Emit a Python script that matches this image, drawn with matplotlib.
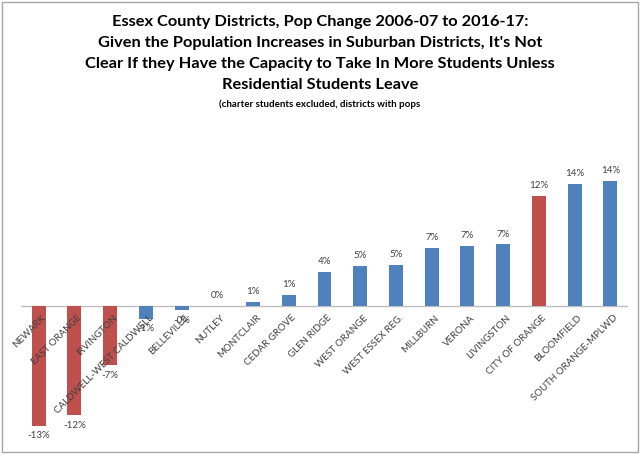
import matplotlib
matplotlib.use("Agg")
import matplotlib.pyplot as plt
from matplotlib.patches import Rectangle

districts = ["NEWARK", "EAST ORANGE", "IRVINGTON", "CALDWELL-WEST CALDWELL",
             "BELLEVILLE", "NUTLEY", "MONTCLAIR", "CEDAR GROVE", "GLEN RIDGE",
             "WEST ORANGE", "WEST ESSEX REG.", "MILLBURN", "VERONA",
             "LIVINGSTON", "CITY OF ORANGE", "BLOOMFIELD", "SOUTH ORANGE-MPLWD"]
pct_change = [-13.4, -12.2, -6.6, -1.4, -0.4, 0.1, 0.55, 1.3, 3.9,
              4.55, 4.65, 6.6, 6.8, 7.0, 12.4, 13.8, 14.1]
highlight = [True, True, True, False, False, False, False, False, False,
             False, False, False, False, False, True, False, False]

BLUE = "#4F81BD"
RED = "#C0504D"
TXT = "#404040"

plt.rcParams['font.family'] = ['Lato', 'DejaVu Sans']

fig = plt.figure(figsize=(6.4, 4.54), dpi=100)
ax = fig.add_axes([0.0325, 0.0308, 0.949, 0.661])

x = list(range(len(districts)))
colors = [RED if h else BLUE for h in highlight]
ax.bar(x, pct_change, width=0.39, color=colors, zorder=2)
ax.axhline(0, color="#BFBFBF", linewidth=1.0, zorder=1)

ax.set_xlim(-0.5, len(districts) - 0.5)
ax.set_ylim(-15.0, 18.7)

for xi, v in zip(x, pct_change):
    lab = f"{v:.0f}%"
    if v >= 0:
        ax.annotate(lab, (xi, v), xytext=(0, 4), textcoords="offset points",
                    ha="center", va="bottom", fontsize=7, color=TXT, zorder=3)
    else:
        ax.annotate(lab, (xi, v), xytext=(0, -4), textcoords="offset points",
                    ha="center", va="top", fontsize=7, color=TXT, zorder=3)

for xi, name in zip(x, districts):
    ax.annotate(name, (xi, 0), xytext=(2, -5), textcoords="offset points",
                ha="right", va="top", rotation=45, rotation_mode="anchor",
                fontsize=7, color=TXT, zorder=4)

ax.set_xticks([])
ax.set_yticks([])
for s in ax.spines.values():
    s.set_visible(False)
ax.patch.set_alpha(0)

title_lines = ["Essex County Districts, Pop Change 2006-07 to 2016-17:",
               "Given the Population Increases in Suburban Districts, It's Not",
               "Clear If they Have the Capacity to Take In More Students Unless",
               "Residential Students Leave"]
ys = [22, 43, 64, 85]
for t, yy in zip(title_lines, ys):
    fig.text(0.5, 1 - yy / 454, t, ha="center", va="center",
             fontsize=11.8, fontweight="bold", color="black")
fig.text(0.5, 1 - 104 / 454, "(charter students excluded, districts with pops",
         ha="center", va="center", fontsize=7, fontweight="bold", color="black")

fig.patches.append(Rectangle((2 / 640, 2 / 454), 636 / 640, 450 / 454,
                             transform=fig.transFigure, fill=False,
                             edgecolor="#A6A6A6", linewidth=1.0))

fig.savefig("out.png", dpi=100)
